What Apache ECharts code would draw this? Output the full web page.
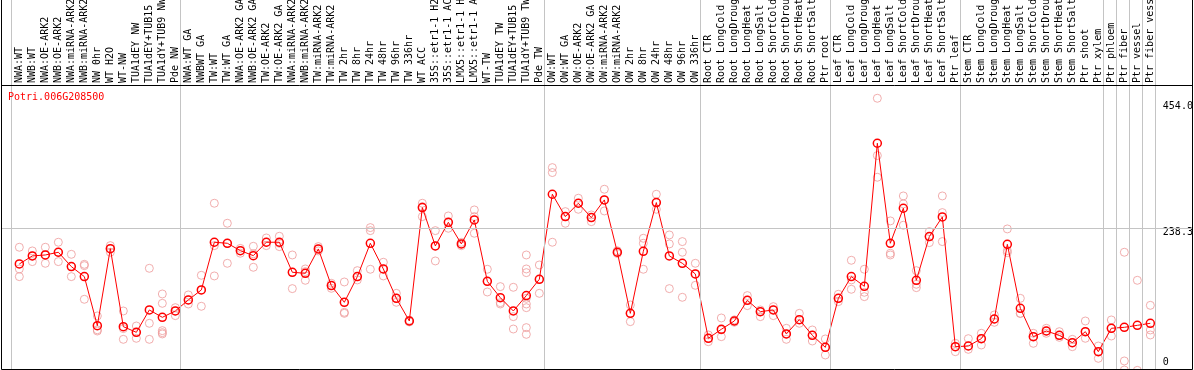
<!DOCTYPE html>
<html><head><meta charset="utf-8">
<script src="https://cdn.jsdelivr.net/npm/echarts@6/dist/echarts.min.js"></script>
<style>html,body{margin:0;padding:0;background:#fff;overflow:hidden}#c{width:1194px;height:370px}</style>
</head><body><div id="c"></div><script>
const geneId = 'Potri.006G208500';
const categories = [
 'NWA:WT','NWB:WT','NWA:OE-ARK2','NWB:OE-ARK2','NWA:miRNA-ARK2','NWB:miRNA-ARK2','NW 0hr','WT H2O','WT-NW','TUA1dEY NW','TUA1dEY+TUB15 NW','TUA1dY+TUB9 NW','Pde NW',
 'NWA:WT GA','NWBWT GA','TW:WT','TW:WT GA','NWA:OE-ARK2 GA','NWB:OE-ARK2 GA','TW:OE-ARK2','TW:OE-ARK2 GA','NWA:miRNA-ARK2 GA','NWB:miRNA-ARK2 GA','TW:miRNA-ARK2','TW:miRNA-ARK2 GA',
 'TW 2hr','TW 8hr','TW 24hr','TW 48hr','TW 96hr','TW 336hr','WT ACC','35S::etr1-1 H2O','35S::etr1-1 ACC','LMX5::etr1-1 H2O','LMX5::etr1-1 ACC','WT-TW','TUA1dEY TW','TUA1dEY+TUB15 TW','TUA1dY+TUB9 TW','Pde TW',
 'OW:WT','OW:WT GA','OW:OE-ARK2','OW:OE-ARK2 GA','OW:miRNA-ARK2','OW:miRNA-ARK2 GA','OW 2hr','OW 8hr','OW 24hr','OW 48hr','OW 96hr','OW 336hr',
 'Root CTR','Root LongCold','Root LongDrought','Root LongHeat','Root LongSalt','Root ShortCold','Root ShortDrought','Root ShortHeat','Root ShortSalt','Ptr root',
 'Leaf CTR','Leaf LongCold','Leaf LongDrought','Leaf LongHeat','Leaf LongSalt','Leaf ShortCold','Leaf ShortDrought','Leaf ShortHeat','Leaf ShortSalt','Ptr leaf',
 'Stem CTR','Stem LongCold','Stem LongDrought','Stem LongHeat','Stem LongSalt','Stem ShortCold','Stem ShortDrought','Stem ShortHeat','Stem ShortSalt','Ptr shoot','Ptr xylem',
 'Ptr phloem','Ptr fiber','Ptr vessel','Ptr fiber vessel'
];
const meanValues = [
 179.2,192.5,194.1,198.6,174.8,158.2,76.9,204.6,75.2,65.8,102.9,90.7,101.2,
 119.5,136.1,215.2,213.5,201.3,193.0,215.2,215.2,165.4,163.7,204.1,143.3,
 115.6,158.2,213.5,170.9,122.2,84.6,272.7,209.1,248.3,212.4,252.2,150.4,123.3,101.2,126.7,153.8,
 294.8,257.7,279.9,256.1,285.4,198.6,97.3,200.2,281.0,192.5,180.3,162.6,
 55.9,70.8,84.6,118.9,100.1,102.9,63.1,86.8,60.8,40.9,
 122.2,158.2,142.1,379.4,213.5,271.6,152.1,224.6,257.2,42.0,
 43.1,55.3,87.9,211.8,105.6,58.6,68.0,60.8,48.7,66.9,33.7,
 72.5,74.1,77.4,80.8
];
const replicateValues = [
 [206.9,170.9,158.2],[200.8,192.5,183.1],[206.9,194.1,180.3],[215.2,198.6,183.1],[195.2,174.8,158.2],[178.6,176.4,120.6],
 [93.0,70.0,68.0],[209.6,204.6,198.6],[101.2,72.0,54.2],[76.3,65.8,55.9],[172.0,80.8,54.2],[129.4,113.9,68.6,65.3,63.1],[106.7,101.2,93.5],
 [127.8,119.5,112.8],[160.4,136.1,109.0],[279.9,209.6,159.3],[246.7,213.5,180.3],[205.0,201.3,197.0],[208.5,196.0,173.7],
 [222.3,215.2,209.6],[225.1,213.5,208.0],[194.1,165.4,138.3],[170.9,166.5,152.1],[208.0,204.1,200.8],[147.1,143.3,138.8],
 [149.3,99.0,97.3],[168.1,158.2,152.7],[239.5,234.5,170.4],[182.0,170.9,159.3],[130.5,122.2,115.6],[86.0,84.6,83.0],
 [279.9,274.3,257.7],[234.5,209.1,184.2],[258.8,248.3,238.4],[215.0,212.4,209.5],[268.8,257.7,230.1],[170.4,150.4,132.7],
 [141.6,115.0,112.8],[140.5,91.8,71.3],[194.1,170.9,164.8,122.2,112.8,106.7,73.6,62.5],[177.5,153.8,130.5],
 [339.0,330.8,215.2],[266.0,257.7,246.7],[288.2,279.9,269.9],[260.5,256.1,249.4],[303.1,285.4,267.1],[201.0,198.6,196.5],
 [111.2,97.3,83.5],[221.8,213.5,170.4],[294.8,281.0,269.9],[227.3,212.4,138.3],[216.3,198.6,123.9],[180.3,162.6,143.8],
 [61.4,55.9,50.3],[89.6,69.7,58.6],[86.5,84.6,82.5],[126.7,118.9,110.1],[102.9,100.1,91.8],[108.4,102.9,93.5],
 [72.5,63.1,54.2],[97.3,86.8,80.8],[69.7,60.8,51.4],[54.8,40.9,28.2],
 [128.9,122.2,116.7],[185.3,152.7,137.2],[170.4,132.2,125.0],[454.0,359.0,323.0],[250.6,196.9,194.1],[292.0,278.8,243.4],
 [168.1,145.5,139.9],[232.9,224.6,214.6],[292.0,264.4,216.3],[47.6,42.0,33.7],
 [55.3,43.1,37.6],[64.2,55.3,44.8],[94.6,87.9,82.4],[237.3,201.3,198.0],[122.2,97.3,97.0],[64.2,58.6,47.6],
 [72.5,68.0,64.2],[66.9,60.8,57.5],[54.2,48.7,42.0],[84.6,66.9,55.9],[43.1,33.7,22.7],
 [86.3,72.5,59.7],[198.6,18.3,3.3],[152.1,2.7],[110.6,69.7,61.4]
];
const groupBreaks = [0,13,41,53,63,73,84,85,86,87,88];
const yTickValues = [0, 238.3, 454];
const yTickLabels = ['0', '238.3', '454.0'];
const refLineValue = 238.3;
const yMin = 0, yMax = 476;

const FONT = 'DejaVu Sans Mono';
const repData = [];
replicateValues.forEach((arr, i) => arr.forEach(v => repData.push([i, v])));

const chart = echarts.init(document.getElementById('c'), null, {renderer: 'canvas'});
chart.setOption({
  animation: false,
  backgroundColor: '#fff',
  title: {text: geneId, left: 8, top: 92, padding: 0,
    textStyle: {color: '#ff0000', fontFamily: FONT, fontSize: 10, fontWeight: 'normal'}},
  grid: [
    {left: 12.83, width: 1144, top: 85, height: 287, outerBoundsMode: 'none'},
    {left: 1, right: 1, top: 85, height: 287, outerBoundsMode: 'none'},
    {left: 11.33, width: 1144, top: 0, bottom: 0, outerBoundsMode: 'none'}
  ],
  xAxis: [
    {type: 'category', gridIndex: 0, data: categories, position: 'top', boundaryGap: true,
     axisLine: {show: false}, axisTick: {show: false}, splitLine: {show: false},
     axisLabel: {rotate: 90, interval: 0, margin: 2, fontFamily: FONT, fontSize: 10, color: '#000', hideOverlap: false}},
    {type: 'value', gridIndex: 1, min: 0, max: 1, show: false},
    {type: 'value', gridIndex: 2, min: 0, max: categories.length, show: false}
  ],
  yAxis: [
    {type: 'value', gridIndex: 0, min: yMin, max: yMax, position: 'right',
     axisLine: {show: false}, axisTick: {show: false}, splitLine: {show: false},
     axisLabel: {customValues: yTickValues, margin: 6, fontFamily: FONT, fontSize: 10, color: '#000',
       formatter: function (v) {
         const i = yTickValues.indexOf(v);
         return '{r' + i + '|' + (i >= 0 ? yTickLabels[i] : v) + '}';
       },
       rich: {
         r0: {padding: [0, 0, 19, 0], fontFamily: FONT, fontSize: 10, color: '#000'},
         r1: {padding: [8, 0, 0, 0], fontFamily: FONT, fontSize: 10, color: '#000'},
         r2: {padding: [17, 0, 0, 0], fontFamily: FONT, fontSize: 10, color: '#000'}
       }}},
    {type: 'value', gridIndex: 1, min: yMin, max: yMax, show: false},
    {type: 'value', gridIndex: 2, min: 0, max: 1, show: false}
  ],
  series: [
    {type: 'line', xAxisIndex: 2, yAxisIndex: 2, data: [[0, -5]], showSymbol: false, lineStyle: {opacity: 0}, silent: true,
     markLine: {silent: true, symbol: 'none', label: {show: false},
       lineStyle: {color: '#c4c4c4', type: 'solid', width: 1},
       data: groupBreaks.map(b => ({xAxis: b}))}},
    {type: 'line', xAxisIndex: 1, yAxisIndex: 1, data: [[0, -5]], showSymbol: false, lineStyle: {opacity: 0}, silent: true,
     markLine: {silent: true, symbol: 'none', label: {show: false},
       lineStyle: {color: '#c4c4c4', type: 'solid', width: 1},
       data: [{yAxis: refLineValue}]}},
    {type: 'scatter', xAxisIndex: 0, yAxisIndex: 0, data: repData, symbol: 'circle', symbolSize: 8, clip: false,
     itemStyle: {color: 'rgba(0,0,0,0)', borderColor: '#ee9a9a', borderWidth: 1}, z: 3},
    {type: 'line', xAxisIndex: 0, yAxisIndex: 0, data: meanValues, symbol: 'circle', symbolSize: 8, showAllSymbol: true, clip: false,
     lineStyle: {color: '#ff0000', width: 1},
     itemStyle: {color: 'rgba(0,0,0,0)', borderColor: '#ff0000', borderWidth: 1.5}, z: 4}
  ],
  graphic: [
    {type: 'rect', shape: {x: 1.5, y: -5, width: 1191, height: 374.5}, style: {fill: 'transparent', stroke: '#000', lineWidth: 1}, z: 100, silent: true},
    {type: 'line', shape: {x1: 1.5, y1: 85.5, x2: 1192.5, y2: 85.5}, style: {stroke: '#000', lineWidth: 1}, z: 100, silent: true}
  ]
});
</script></body></html>
